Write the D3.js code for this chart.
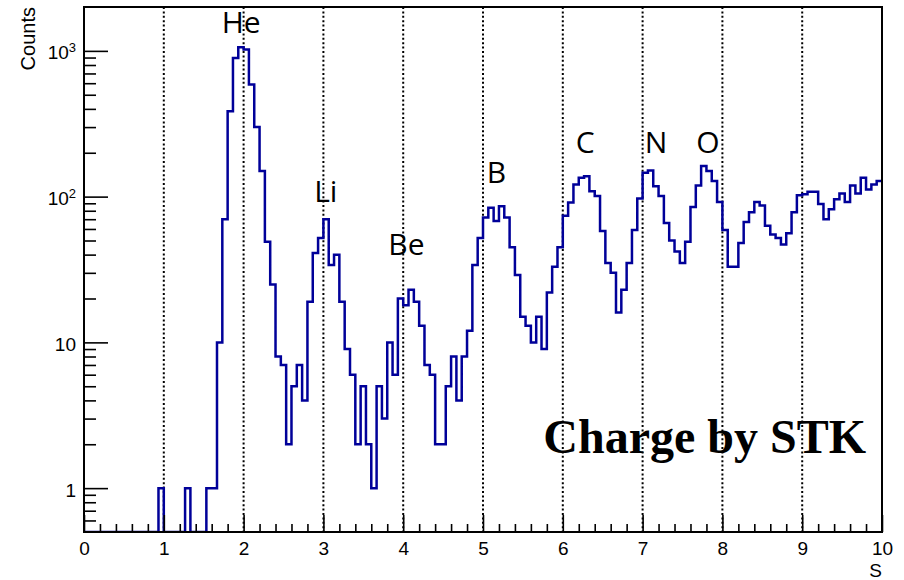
<!DOCTYPE html>
<html>
<head>
<meta charset="utf-8">
<script src="https://cdnjs.cloudflare.com/ajax/libs/d3/7.8.5/d3.min.js"></script>
<style>
body { margin: 0; background: #fff; }
text { font-family: "Liberation Sans", Arial, sans-serif; }
</style>
</head>
<body>
<div id="chart"></div>
<script>
// histogram of S : 150 bins of width 1/15 between 0 and 10
var sMin = 0, sMax = 10;
var counts = [
  0, 0, 0, 0, 0, 0, 0, 0, 0, 0, 0, 0, 0, 0, 1,
  0, 0, 0, 0, 1, 0, 0, 0, 1, 1, 10, 70, 386, 895, 1058,
  1020, 588, 300, 150, 49, 25, 8, 7, 2, 5, 7, 4, 19, 41, 52,
  70, 34, 40, 19, 9, 6, 2, 5, 2, 1, 5, 3, 10, 6, 20,
  18, 23, 19, 13, 7, 6, 2, 2, 5, 8, 4, 8, 12, 34, 52,
  72, 84, 68, 86, 72, 45, 29, 15, 13, 10, 15, 9, 22, 33, 45,
  74, 91, 121, 135, 138, 109, 101, 58, 35, 30, 16, 23, 35, 59, 97,
  146, 151, 118, 101, 66, 50, 42, 35, 49, 85, 119, 162, 150, 128, 92,
  59, 33, 33, 48, 67, 78, 92, 87, 63, 55, 52, 47, 56, 78, 102,
  104, 108, 108, 89, 70, 82, 96, 105, 92, 119, 105, 135, 112, 121, 128
];

// peak labels
var elements = ["He", "Li", "Be", "B", "C", "N", "O"];
var elementS = [1.97, 3.03, 4.04, 5.17, 6.28, 7.17, 7.82];
var elementCounts = [1330, 92, 40, 124, 198, 198, 198];

var xTicks = [0, 1, 2, 3, 4, 5, 6, 7, 8, 9, 10];
var gridTicks = [1, 2, 3, 4, 5, 6, 7, 8, 9];
var yTicks = [1, 10, 100, 1000];
var yTickLabels = ["1", "10", "10^2", "10^3"];
var yMinorTicks = [0.6, 0.7, 0.8, 0.9, 2, 3, 4, 5, 6, 7, 8, 9,
  20, 30, 40, 50, 60, 70, 80, 90, 200, 300, 400, 500, 600, 700, 800, 900];

var margin = {top: 7, right: 22, bottom: 48, left: 84},
  width = 904 - margin.left - margin.right,
  height = 580 - margin.top - margin.bottom;

var x = d3.scaleLinear().domain([sMin, sMax]).range([0, width]);
var y = d3.scaleLog().domain([0.5, 2000]).range([height, 0]);

var svgRoot = d3.select("#chart").append("svg")
    .attr("width", 904)
    .attr("height", 580);

var svg = svgRoot.append("g")
    .attr("transform", "translate(" + margin.left + "," + margin.top + ")");

svg.append("clipPath").attr("id", "plot")
  .append("rect").attr("width", width).attr("height", height);

// dotted lines at integer S
svg.selectAll(".grid")
    .data(gridTicks)
  .enter().append("line")
    .attr("class", "grid")
    .attr("x1", function(d) { return x(d); })
    .attr("x2", function(d) { return x(d); })
    .attr("y1", 0)
    .attr("y2", height)
    .attr("stroke", "#000")
    .attr("stroke-width", 2)
    .attr("stroke-dasharray", "2,2.4");

// histogram outline
var binW = (sMax - sMin) / counts.length;
var steps = counts.map(function(c, i) { return {s: sMin + i * binW, c: c}; });
steps.push({s: sMax, c: counts[counts.length - 1]});

var line = d3.line()
    .x(function(d) { return x(d.s); })
    .y(function(d) { return d.c > 0 ? y(d.c) : height; })
    .curve(d3.curveStepAfter);

svg.append("path")
    .datum(steps)
    .attr("clip-path", "url(#plot)")
    .attr("d", line)
    .attr("fill", "none")
    .attr("stroke", "#000099")
    .attr("stroke-width", 2.5);

// x axis
svg.append("g")
    .attr("transform", "translate(0," + height + ")")
    .call(d3.axisBottom(x).tickValues(xTicks).tickSize(-17).tickPadding(9.5).tickFormat(d3.format("d")))
    .call(function(g) { g.select(".domain").remove(); })
    .attr("font-size", 19)
    .attr("font-family", "Liberation Sans, Arial, sans-serif")
    .selectAll("line").attr("stroke-width", 1.6);

svg.append("g")
    .attr("transform", "translate(0," + height + ")")
    .call(d3.axisBottom(x).tickValues(d3.range(1, 50).filter(function(i) { return i % 5; }).map(function(i) { return i / 5; }))
      .tickSize(-8).tickFormat(""))
    .call(function(g) { g.select(".domain").remove(); })
    .selectAll("line").attr("stroke-width", 1.6);

// y axis
var yAxis = svg.append("g")
    .call(d3.axisLeft(y).tickValues(yTicks).tickSize(-24).tickPadding(8)
      .tickFormat(function(d, i) { return yTickLabels[i]; }))
    .call(function(g) { g.select(".domain").remove(); })
    .attr("font-size", 19)
    .attr("font-family", "Liberation Sans, Arial, sans-serif");
yAxis.selectAll("line").attr("stroke-width", 1.6);
yAxis.selectAll("text")
    .attr("dy", "0.42em")
    .each(function(d, i) {
      var parts = yTickLabels[i].split("^");
      if (parts.length > 1) {
        var t = d3.select(this).text(parts[0]);
        t.append("tspan").attr("dy", "-0.55em").attr("font-size", 13).text(parts[1]);
      }
    });

svg.append("g")
    .call(d3.axisLeft(y).tickValues(yMinorTicks).tickSize(-12).tickFormat(""))
    .call(function(g) { g.select(".domain").remove(); })
    .selectAll("line").attr("stroke-width", 1.6);

// frame
svg.append("rect")
    .attr("width", width)
    .attr("height", height)
    .attr("fill", "none")
    .attr("stroke", "#000")
    .attr("stroke-width", 2);

// axis titles
svgRoot.append("text")
    .attr("transform", "translate(35," + margin.top + ") rotate(-90)")
    .attr("text-anchor", "end")
    .attr("font-size", 20)
    .text("Counts");

svgRoot.append("text")
    .attr("x", margin.left + width)
    .attr("y", 577)
    .attr("text-anchor", "end")
    .attr("font-size", 19)
    .text("S");

// element labels
svg.selectAll(".elem")
    .data(elements)
  .enter().append("text")
    .attr("class", "elem")
    .attr("x", function(d, i) { return x(elementS[i]); })
    .attr("y", function(d, i) { return y(elementCounts[i]); })
    .attr("text-anchor", "middle")
    .style("font-family", "'Open Sans', sans-serif")
    .style("font-size", "30px")
    .text(function(d) { return d; });

svg.append("text")
    .attr("x", width - 16)
    .attr("y", 446)
    .attr("text-anchor", "end")
    .style("font-family", "'Liberation Serif', 'Times New Roman', serif")
    .style("font-weight", "bold")
    .style("font-size", "48px")
    .text("Charge by STK");
</script>
</body>
</html>
